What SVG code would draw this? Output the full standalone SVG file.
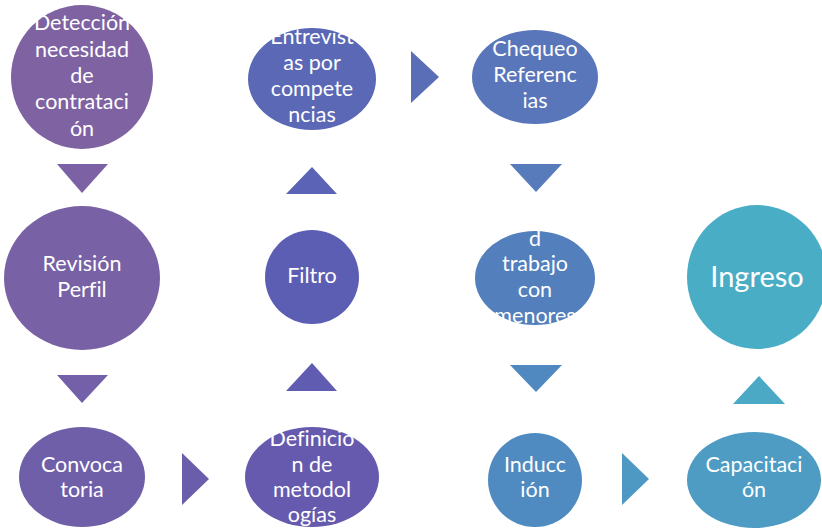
<svg xmlns="http://www.w3.org/2000/svg" width="822" height="528" viewBox="0 0 822 528">
<style>
text{font-family:Lato,"Open Sans","Liberation Sans",sans-serif;fill:#fff;font-size:21.5px;text-anchor:middle;dominant-baseline:central;font-variant-ligatures:none;transform:translateY(-2px)}
.big{font-size:29px}
</style>
<rect width="822" height="528" fill="#fff"/>
<g id="connectors">
<polygon points="57,164 108,164 82,193" fill="#7C61A5"/>
<polygon points="57,375 108,375 82,403" fill="#7460A8"/>
<polygon points="182,453 209,479 182,505" fill="#6A5DAB"/>
<polygon points="286,391 337,391 312,363" fill="#605CB1"/>
<polygon points="286,194 337,194 312,167" fill="#5A63B5"/>
<polygon points="411,51 439,77 411,103" fill="#5A6EB8"/>
<polygon points="510,164 562,164 536,192" fill="#577BBB"/>
<polygon points="510,365 562,365 536,392" fill="#5089C0"/>
<polygon points="622,453 649,479 622,505" fill="#4E98C4"/>
<polygon points="733,404 785,404 759,376" fill="#4BA9C6"/>
</g>
<g id="n1"><ellipse cx="82" cy="77" rx="71" ry="72" fill="#7E62A2"/>
<text x="82" y="24">Detección</text><text x="82" y="51">necesidad</text><text x="82" y="77">de</text><text x="82" y="103">contrataci</text><text x="82" y="130">ón</text></g>
<g id="n2"><ellipse cx="82" cy="278" rx="78" ry="72" fill="#7961A6"/>
<text x="82" y="265">Revisión</text><text x="82" y="291">Perfil</text></g>
<g id="n3"><ellipse cx="82" cy="477" rx="63" ry="50" fill="#6F5FA9"/>
<text x="82" y="466">Convoca</text><text x="82" y="491">toria</text></g>
<g id="n4"><ellipse cx="312" cy="477" rx="67" ry="50" fill="#665AAE"/>
<text x="312" y="440">Definició</text><text x="312" y="466">n de</text><text x="312" y="491">metodol</text><text x="312" y="516">ogías</text></g>
<g id="n5"><ellipse cx="312" cy="277" rx="47" ry="47" fill="#5C5EB4"/>
<text x="312" y="277">Filtro</text></g>
<g id="n6"><ellipse cx="312" cy="79" rx="64" ry="51" fill="#5A68B6"/>
<text x="312" y="38">Entrevist</text><text x="312" y="64">as por</text><text x="312" y="90">compete</text><text x="312" y="116">ncias</text></g>
<g id="n7"><ellipse cx="535" cy="77" rx="63" ry="47" fill="#5976BA"/>
<text x="535" y="50">Chequeo</text><text x="535" y="76">Referenc</text><text x="535" y="102">ias</text></g>
<g id="n8"><ellipse cx="535" cy="278" rx="60" ry="47" fill="#5380BD"/>
<text x="535" y="240">d</text><text x="535" y="265">trabajo</text><text x="535" y="291">con</text><text x="535" y="317">menores</text></g>
<g id="n9"><ellipse cx="535" cy="480" rx="47" ry="47" fill="#4F8BC0"/>
<text x="535" y="466">Inducc</text><text x="535" y="491">ión</text></g>
<g id="n10"><ellipse cx="754" cy="480" rx="67" ry="48" fill="#4E9CC4"/>
<text x="754" y="466">Capacitaci</text><text x="754" y="491">ón</text></g>
<g id="n11"><ellipse cx="757" cy="277" rx="70" ry="72" fill="#4AADC6"/>
<text class="big" x="757" y="277">Ingreso</text></g>
</svg>
